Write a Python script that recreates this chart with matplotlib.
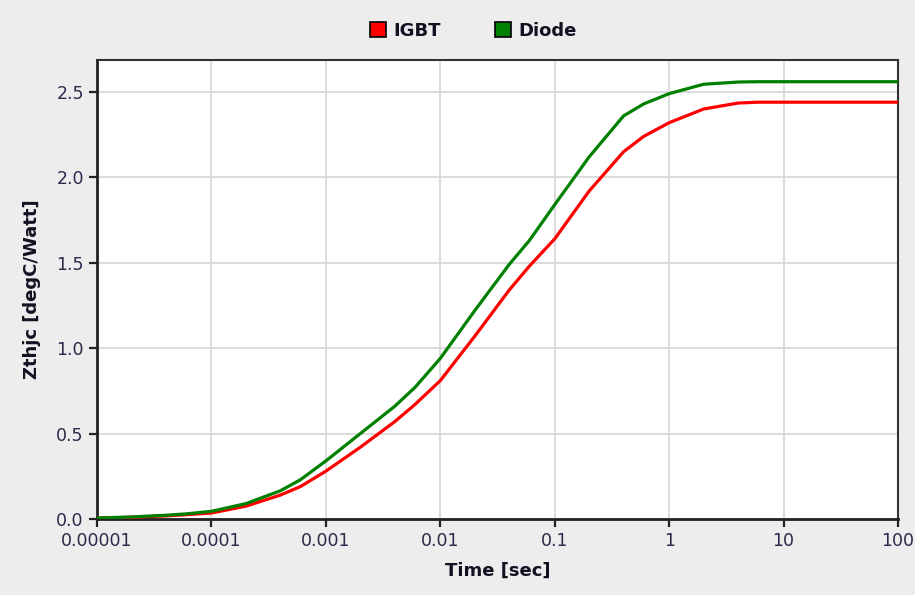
import matplotlib
matplotlib.use("Agg")
import matplotlib.pyplot as plt
from matplotlib.patches import Rectangle

time_sec = [1e-5, 2e-5, 4e-5, 6e-5, 1e-4, 2e-4, 4e-4, 6e-4, 1e-3, 2e-3, 4e-3, 6e-3,
            1e-2, 2e-2, 4e-2, 6e-2, 0.1, 0.2, 0.4, 0.6, 1, 2, 4, 6, 10, 20, 40, 60, 100]
igbt = [0.005, 0.010, 0.018, 0.025, 0.035, 0.075, 0.140, 0.190, 0.280, 0.420, 0.570, 0.670,
        0.810, 1.070, 1.340, 1.480, 1.640, 1.920, 2.150, 2.240, 2.320, 2.400, 2.435, 2.440,
        2.440, 2.440, 2.440, 2.440, 2.440]
diode = [0.006, 0.012, 0.022, 0.030, 0.045, 0.090, 0.165, 0.230, 0.340, 0.500, 0.660, 0.770,
         0.940, 1.220, 1.490, 1.630, 1.840, 2.120, 2.360, 2.430, 2.490, 2.545, 2.558, 2.560,
         2.560, 2.560, 2.560, 2.560, 2.560]
series_names = ["IGBT", "Diode"]
series_colors = ["#ff0000", "#008000"]
x_ticks = [1e-5, 1e-4, 1e-3, 1e-2, 1e-1, 1, 10, 100]
x_tick_labels = ["0.00001", "0.0001", "0.001", "0.01", "0.1", "1", "10", "100"]
y_ticks = [0.0, 0.5, 1.0, 1.5, 2.0, 2.5]
y_tick_labels = ["0.0", "0.5", "1.0", "1.5", "2.0", "2.5"]

bg = "#ededed"
fig = plt.figure(figsize=(9.15, 5.95), dpi=100, facecolor=bg)
ax = fig.add_axes([97/915, 1-519/595, (898-97)/915, (519-60)/595])
ax.set_facecolor("white")

for vals, name, col in zip([igbt, diode], series_names, series_colors):
    ax.plot(time_sec, vals, color=col, lw=2.3, label=name, zorder=3)

ax.set_xscale("log")
ax.set_xlim(1e-5, 100)
ax.set_ylim(0, 2.687)
ax.set_xticks(x_ticks)
ax.set_xticklabels(x_tick_labels)
ax.minorticks_off()
ax.set_yticks(y_ticks)
ax.set_yticklabels(y_tick_labels)
ax.grid(True, color="#d6d6d6", lw=1.2, zorder=0)
ax.set_axisbelow(True)

tick_col = "#2a2a4a"
ax.tick_params(axis="both", which="major", direction="out", length=5.5, width=1.6,
               color="#222222", labelsize=12.5, labelcolor=tick_col, pad=4)
for s in ["left", "bottom"]:
    ax.spines[s].set_linewidth(2.0)
    ax.spines[s].set_color("#222222")
for s in ["top", "right"]:
    ax.spines[s].set_linewidth(1.5)
    ax.spines[s].set_color("#333333")

ax.set_xlabel("Time [sec]", fontsize=13, fontweight="bold", color="#111122", labelpad=8)
ax.set_ylabel("Zthjc [degC/Watt]", fontsize=13, fontweight="bold", color="#111122", labelpad=11)

handles = [Rectangle((0, 0), 1, 1, facecolor=c, edgecolor="black", lw=1.2) for c in series_colors]
leg = fig.legend(handles, series_names, loc="center", bbox_to_anchor=(473/915, 1-31/595),
                 ncol=2, frameon=False, handlelength=0.9, handleheight=0.9, handletextpad=0.4,
                 columnspacing=3.0, prop={"weight": "bold", "size": 13})
for t in leg.get_texts():
    t.set_color("#111122")

fig.savefig("out.png", dpi=100, facecolor=bg)
